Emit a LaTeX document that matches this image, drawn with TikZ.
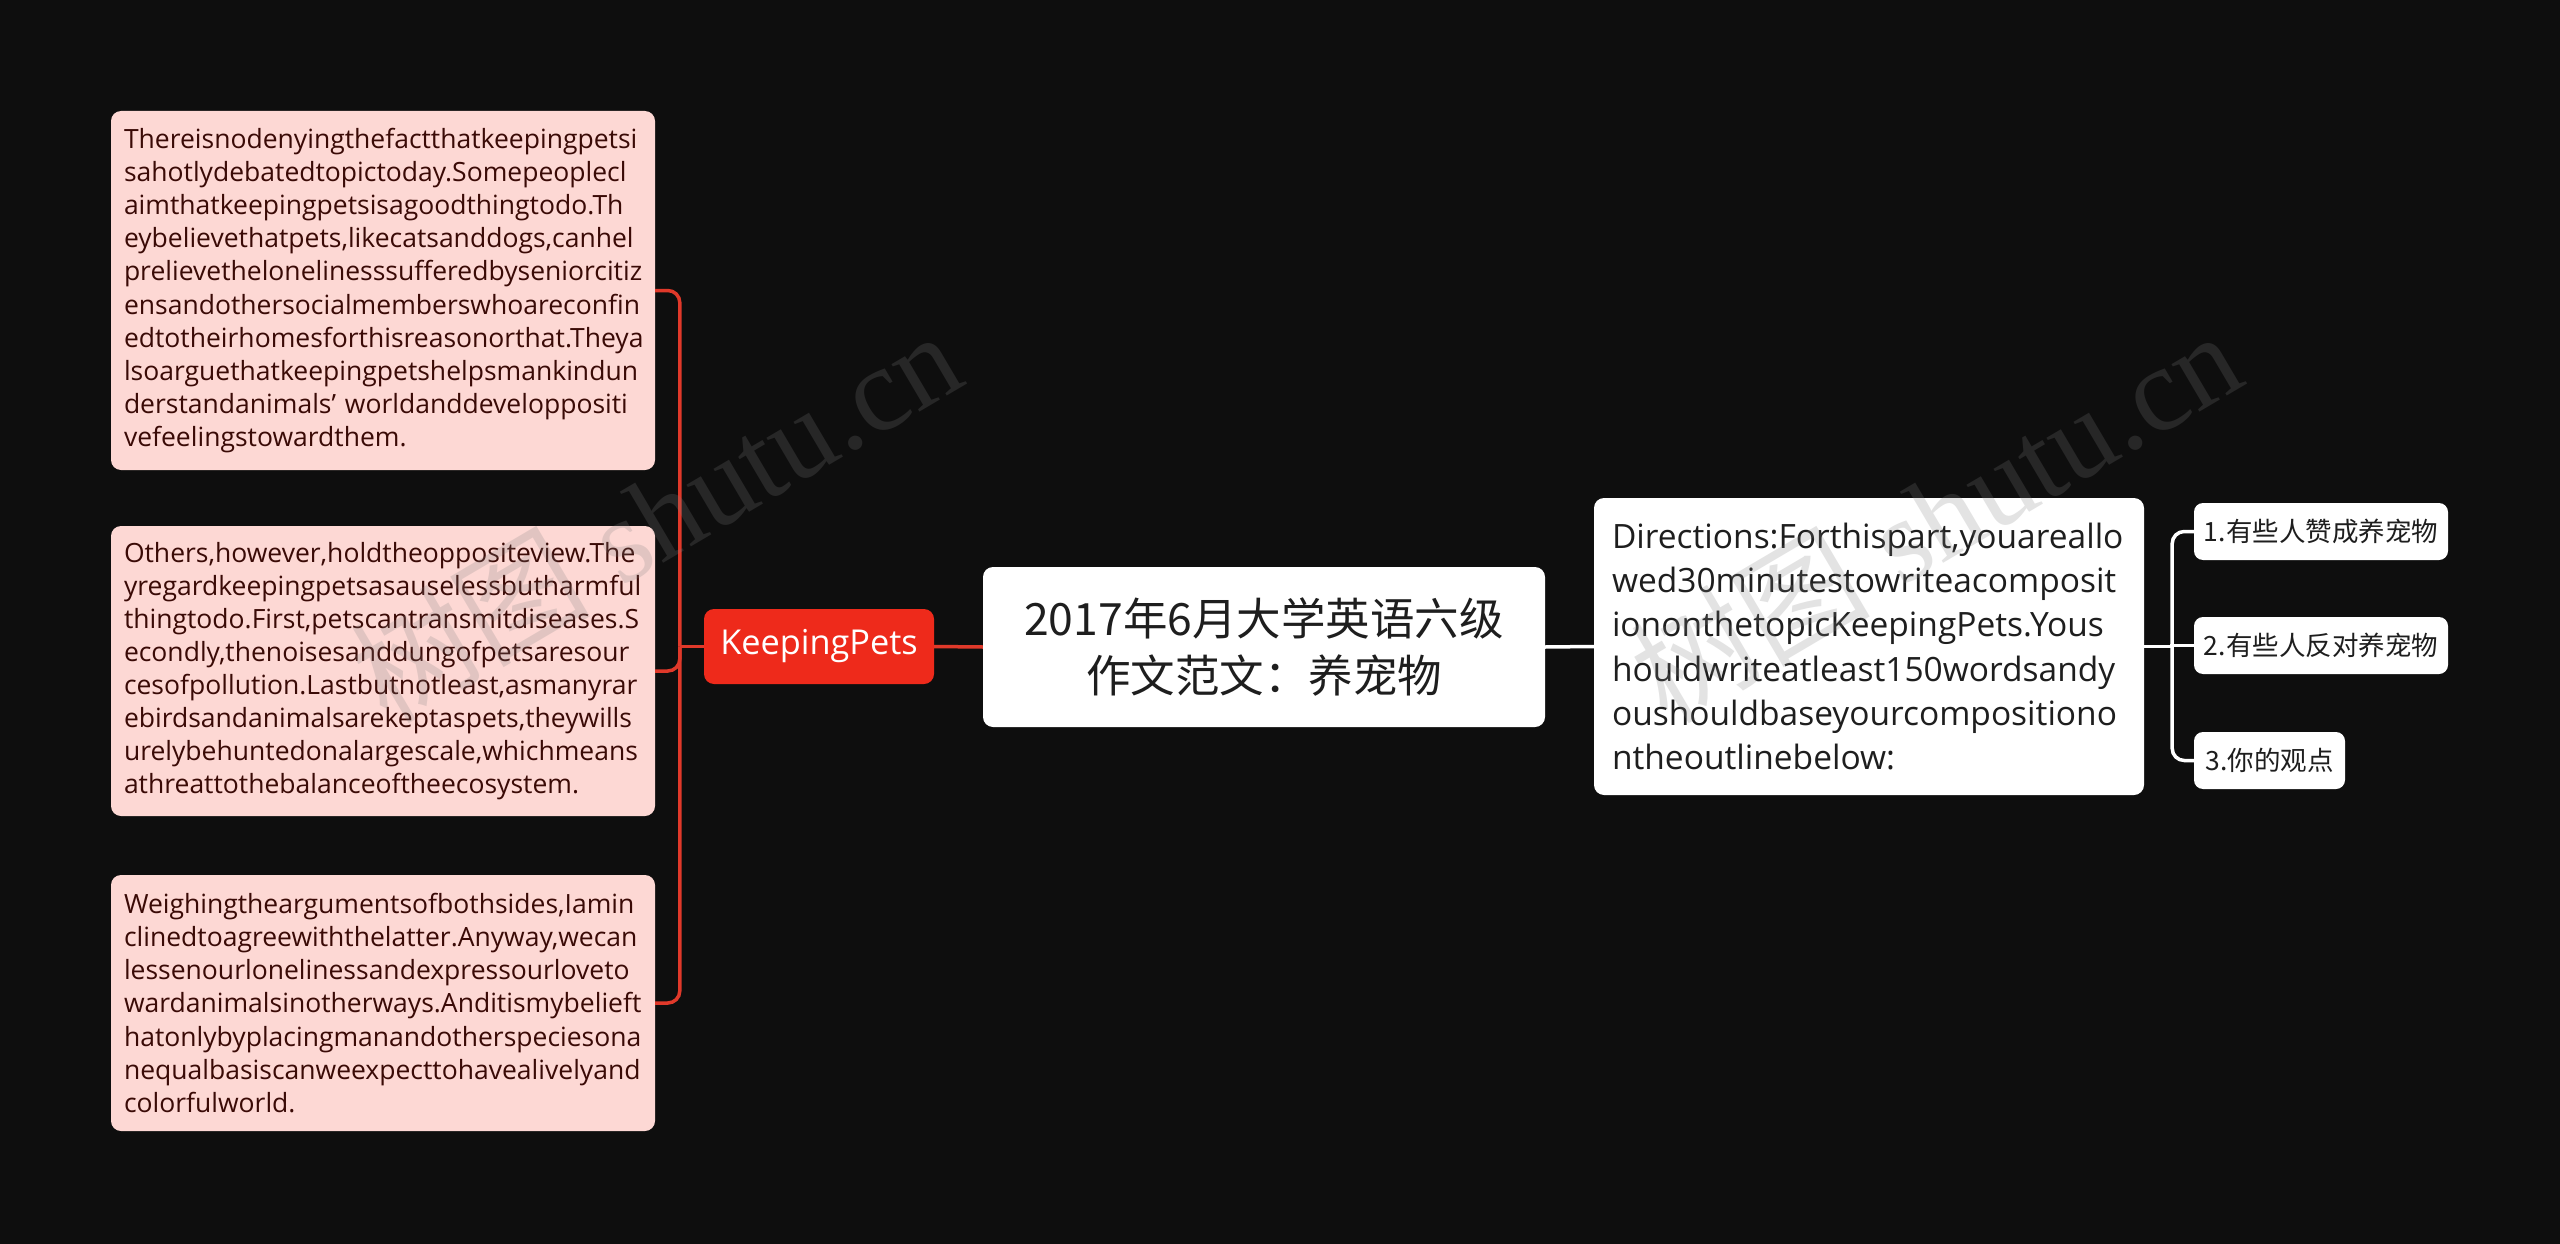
\documentclass[tikz,border=0pt]{standalone}
\usepackage{fontspec}
\setmainfont{Open Sans}
\newfontfamily\cjk{Noto Sans CJK SC}
\newfontfamily\wmfont{Liberation Serif}
\usetikzlibrary{calc}
\definecolor{bg}{HTML}{0E0E0E}
\definecolor{pinkfill}{HTML}{FDD8D4}
\definecolor{pinktext}{HTML}{3A0A06}
\definecolor{kpred}{HTML}{EE2A1B}
\definecolor{redline}{HTML}{E0392A}
\definecolor{darktext}{HTML}{1E1E1E}
\definecolor{wmgray}{HTML}{808080}
\begin{document}
\begin{tikzpicture}[x=1pt,y=-1pt,
  pinkbox/.style={fill=pinkfill, text=pinktext, rounded corners=10pt, inner xsep=13pt, inner ysep=0pt,
    text width=518pt, align=left, minimum width=544pt, font=\fontsize{26.5}{33.1}\selectfont},
  kpbox/.style={fill=kpred, text=white, rounded corners=10pt, inner sep=0pt, minimum width=230pt,
    minimum height=75pt, font=\fontsize{34.3}{40}\selectfont},
  titlebox/.style={fill=white, text=darktext, rounded corners=10pt, inner sep=0pt, minimum width=562pt,
    minimum height=160pt, align=center, font=\cjk\fontsize{44.5}{57}\selectfont},
  dirbox/.style={fill=white, text=darktext, rounded corners=10pt, inner xsep=18pt, inner ysep=0pt,
    text width=514pt, minimum width=550pt, minimum height=297pt, align=left,
    font=\fontsize{33.5}{44.3}\selectfont},
  itembox/.style={fill=white, text=darktext, rounded corners=9pt, inner sep=0pt, minimum height=57pt,
    font=\cjk\fontsize{26.5}{32}\selectfont},
  redconn/.style={draw=redline, line width=3.5pt},
  whiteconn/.style={draw=white, line width=3.5pt},
  wm/.style={text=wmgray, text opacity=0.22, inner sep=0pt, font=\fontsize{120}{120}\selectfont}
]
\useasboundingbox (0,0) rectangle (2560,1244);
\fill[bg] (0,0) rectangle (2560,1244);

% left detail boxes
\node[pinkbox, minimum height=359pt] (b1) at (383,290.5) {%
Thereisnodenyingthefactthatkeepingpetsi\\
sahotlydebatedtopictoday.Somepeoplecl\\
aimthatkeepingpetsisagoodthingtodo.Th\\
eybelievethatpets,likecatsanddogs,canhel\\
prelievethelonelinesssufferedbyseniorcitiz\\
ensandothersocialmemberswhoareconfin\\
edtotheirhomesforthisreasonorthat.Theya\\
lsoarguethatkeepingpetshelpsmankindun\\
\makebox[\linewidth][s]{derstandanimals’ worldanddeveloppositi}\\
vefeelingstowardthem.};

\node[pinkbox, minimum height=290pt] (b2) at (383,671) {%
Others,however,holdtheoppositeview.The\\
yregardkeepingpetsasauselessbutharmful\\
thingtodo.First,petscantransmitdiseases.S\\
econdly,thenoisesanddungofpetsaresour\\
cesofpollution.Lastbutnotleast,asmanyrar\\
ebirdsandanimalsarekeptaspets,theywills\\
urelybehuntedonalargescale,whichmeans\\
athreattothebalanceoftheecosystem.};

\node[pinkbox, minimum height=256pt] (b3) at (383,1003) {%
Weighingtheargumentsofbothsides,Iamin\\
clinedtoagreewiththelatter.Anyway,wecan\\
lessenourlonelinessandexpressourloveto\\
wardanimalsinotherways.Anditismybelieft\\
hatonlybyplacingmanandotherspeciesona\\
nequalbasiscanweexpecttohavealivelyand\\
colorfulworld.};

% main nodes
\node[kpbox] (kp) at (819,646.5) {KeepingPets};
\node[titlebox] (title) at (1264,647) {2017年6月大学英语六级\\作文范文：养宠物};
\node[dirbox] (dir) at (1869,646.5) {%
Directions:Forthispart,youareallo\\
wed30minutestowriteacomposit\\
iononthetopicKeepingPets.Yous\\
houldwriteatleast150wordsandy\\
oushouldbaseyourcompositiono\\
ntheoutlinebelow:};

\node[itembox, minimum width=254pt] (i1) at (2321,531.5) {1.有些人赞成养宠物};
\node[itembox, minimum width=254pt] (i2) at (2321,645.5) {2.有些人反对养宠物};
\node[itembox, minimum width=151pt] (i3) at (2269.5,760.5) {3.你的观点};

% connectors
\coordinate (rs) at ($(kp.west)+(-24,0)$);
\draw[redconn] (kp.west) -- (rs);
\draw[redconn, rounded corners=12pt] (b1.east) -| (rs);
\draw[redconn, rounded corners=12pt] (b2.east) -| (rs);
\draw[redconn, rounded corners=12pt] (b3.east) -| (rs);
\draw[redconn] (kp.east) -- (title.west);
\draw[whiteconn] (title.east) -- (dir.west);
\coordinate (ws) at ($(dir.east)+(28,0)$);
\draw[whiteconn] (dir.east) -- (ws);
\draw[whiteconn, rounded corners=12pt] (i1.west) -| (ws);
\draw[whiteconn] (i2.west) -| (ws);
\draw[whiteconn, rounded corners=12pt] (i3.west) -| (ws);

% watermarks
\node[wm, rotate=30.5] (wm1) at (655,515) {{\cjk 树图} {\wmfont shutu.cn}};
\node[wm, rotate=30.5] (wm2) at (1935,515) {{\cjk 树图} {\wmfont shutu.cn}};
\end{tikzpicture}
\end{document}
